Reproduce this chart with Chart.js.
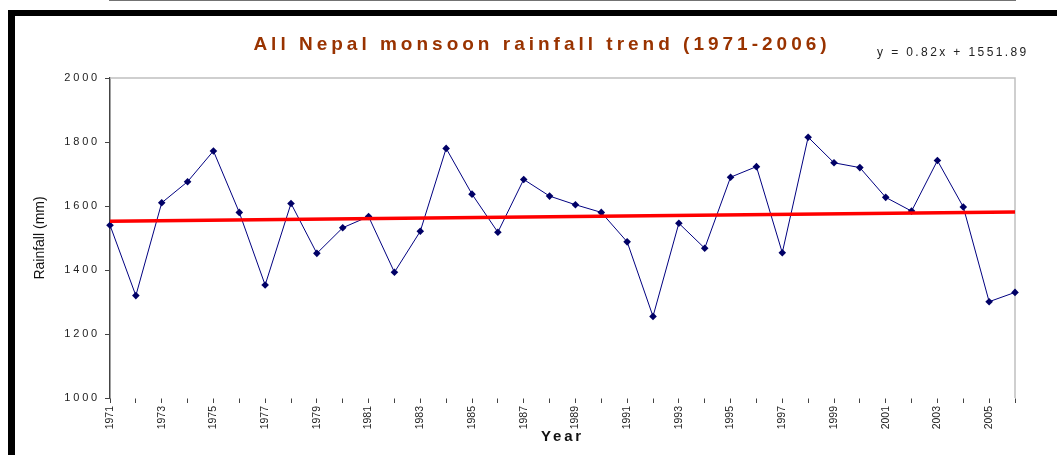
<!DOCTYPE html>
<html>
<head>
<meta charset="utf-8">
<script src="https://cdn.jsdelivr.net/npm/chart.js@4/dist/chart.umd.min.js"></script>
<style>
  html, body { margin: 0; padding: 0; background: #fff; }
  #wrap { position: relative; width: 1057px; height: 455px; overflow: hidden; }
  #rain { position: absolute; left: 0; top: 0; }
  .bar { position: absolute; background: #000; }
</style>
</head>
<body>
<div id="wrap">
  <canvas id="rain" width="1057" height="455"></canvas>
  <div class="bar" style="left:8px;top:10px;width:1049px;height:6px"></div>
  <div class="bar" style="left:8px;top:10px;width:7px;height:445px"></div>
</div>
<script>
const years = ['1971','1972','1973','1974','1975','1976','1977','1978','1979','1980',
               '1981','1982','1983','1984','1985','1986','1987','1988','1989','1990',
               '1991','1992','1993','1994','1995','1996','1997','1998','1999','2000',
               '2001','2002','2003','2004','2005','2006'];
const rainfall = [1540, 1320, 1610, 1676, 1772, 1580, 1353, 1608, 1452, 1532,
                  1567, 1393, 1521, 1780, 1637, 1518, 1683, 1631, 1604, 1580,
                  1488, 1255, 1546, 1468, 1690, 1723, 1454, 1815, 1735, 1720,
                  1627, 1584, 1742, 1597, 1301, 1330];
// trend line end points (first and last year)
const trendYears = ['1971', '2006'];
const trendValues = [1552.7, 1581.4];
const yTickValues = [1000, 1200, 1400, 1600, 1800, 2000];
const titleText = 'All Nepal monsoon rainfall trend (1971-2006)';
const equationText = 'y = 0.82x + 1551.89';

// plot frame, title, equation and letter spacing (the original picture is stretched sideways)
const headerPlugin = {
    id: 'header',
    beforeDraw(chart) {
        chart.ctx.letterSpacing = '0px';
    },
    beforeDatasetsDraw(chart) {
        const ctx = chart.ctx;
        const a = chart.chartArea;
        ctx.save();
        ctx.strokeStyle = '#c0c0c0';
        ctx.lineWidth = 1.5;
        ctx.beginPath();
        ctx.moveTo(a.left, a.top);
        ctx.lineTo(a.right, a.top);
        ctx.lineTo(a.right, a.bottom);
        ctx.stroke();
        ctx.restore();
    },
    afterDatasetsDraw(chart) {
        chart.ctx.letterSpacing = '2.8px';
    },
    afterDraw(chart) {
        const ctx = chart.ctx;
        const area = chart.chartArea;
        ctx.save();
        ctx.letterSpacing = '4px';
        ctx.fillStyle = '#993300';
        ctx.font = 'bold 19px "Liberation Sans", Arial, sans-serif';
        ctx.textAlign = 'center';
        ctx.textBaseline = 'middle';
        ctx.fillText(titleText, 542, 45);
        ctx.letterSpacing = '2.4px';
        ctx.fillStyle = '#222';
        ctx.font = '12px "Liberation Sans", Arial, sans-serif';
        ctx.textAlign = 'left';
        ctx.fillText(equationText, area.right - 138, area.top - 25);
        ctx.restore();
        ctx.letterSpacing = '0px';
    }
};

const ctx = document.getElementById('rain').getContext('2d');
new Chart(ctx, {
    type: 'line',
    data: {
        labels: years,
        datasets: [
            {
                label: 'Trend',
                data: trendYears.map((y, i) => ({x: y, y: trendValues[i]})),
                borderColor: '#ff0000',
                borderWidth: 3.5,
                pointRadius: 0,
                fill: false,
                order: 0
            },
            {
                label: 'Rainfall',
                data: rainfall,
                borderColor: '#000080',
                backgroundColor: '#000080',
                borderWidth: 1,
                pointStyle: 'rectRot',
                pointRadius: 3.8,
                pointBorderWidth: 0,
                pointBackgroundColor: '#000066',
                tension: 0,
                fill: false,
                order: 1
            }
        ]
    },
    options: {
        responsive: false,
        animation: false,
        layout: {
            padding: { left: 0, top: 78, right: 42, bottom: 0 }
        },
        plugins: {
            legend: { display: false },
            title: { display: false },
            tooltip: { enabled: false }
        },
        scales: {
            x: {
                type: 'category',
                offset: false,
                afterFit: s => { s.height = 57; },
                grid: {
                    z: 1,
                    drawOnChartArea: false,
                    tickColor: '#444',
                    tickLength: 5
                },
                border: { color: '#444', width: 1.5 },
                ticks: {
                    z: 0,
                    autoSkip: false,
                    maxRotation: 90,
                    minRotation: 90,
                    padding: 3,
                    color: '#222',
                    font: { family: '"Liberation Sans", Arial, sans-serif', size: 10.5 },
                    callback: function (val, index) {
                        return index % 2 === 0 ? this.getLabelForValue(val) : '';
                    }
                },
                title: {
                    display: true,
                    text: 'Year',
                    color: '#111',
                    padding: { top: 0, bottom: 9 },
                    font: { family: '"Liberation Sans", Arial, sans-serif', size: 15, weight: 'bold' }
                }
            },
            y: {
                min: 1000,
                max: 2000,
                afterFit: s => { s.width = 110; },
                afterBuildTicks: s => { s.ticks = yTickValues.map(v => ({value: v})); },
                grid: {
                    drawOnChartArea: false,
                    tickColor: '#444',
                    tickLength: 5
                },
                border: { color: '#444', width: 1.5 },
                ticks: {
                    z: 1,
                    padding: 5,
                    color: '#222',
                    font: { family: '"Liberation Sans", Arial, sans-serif', size: 11 },
                    callback: v => String(v)
                },
                title: {
                    display: true,
                    text: 'Rainfall (mm)',
                    color: '#111',
                    padding: { top: 32, bottom: 0 },
                    font: { family: '"Liberation Sans", Arial, sans-serif', size: 14 }
                }
            }
        }
    },
    plugins: [headerPlugin]
});
</script>
</body>
</html>
